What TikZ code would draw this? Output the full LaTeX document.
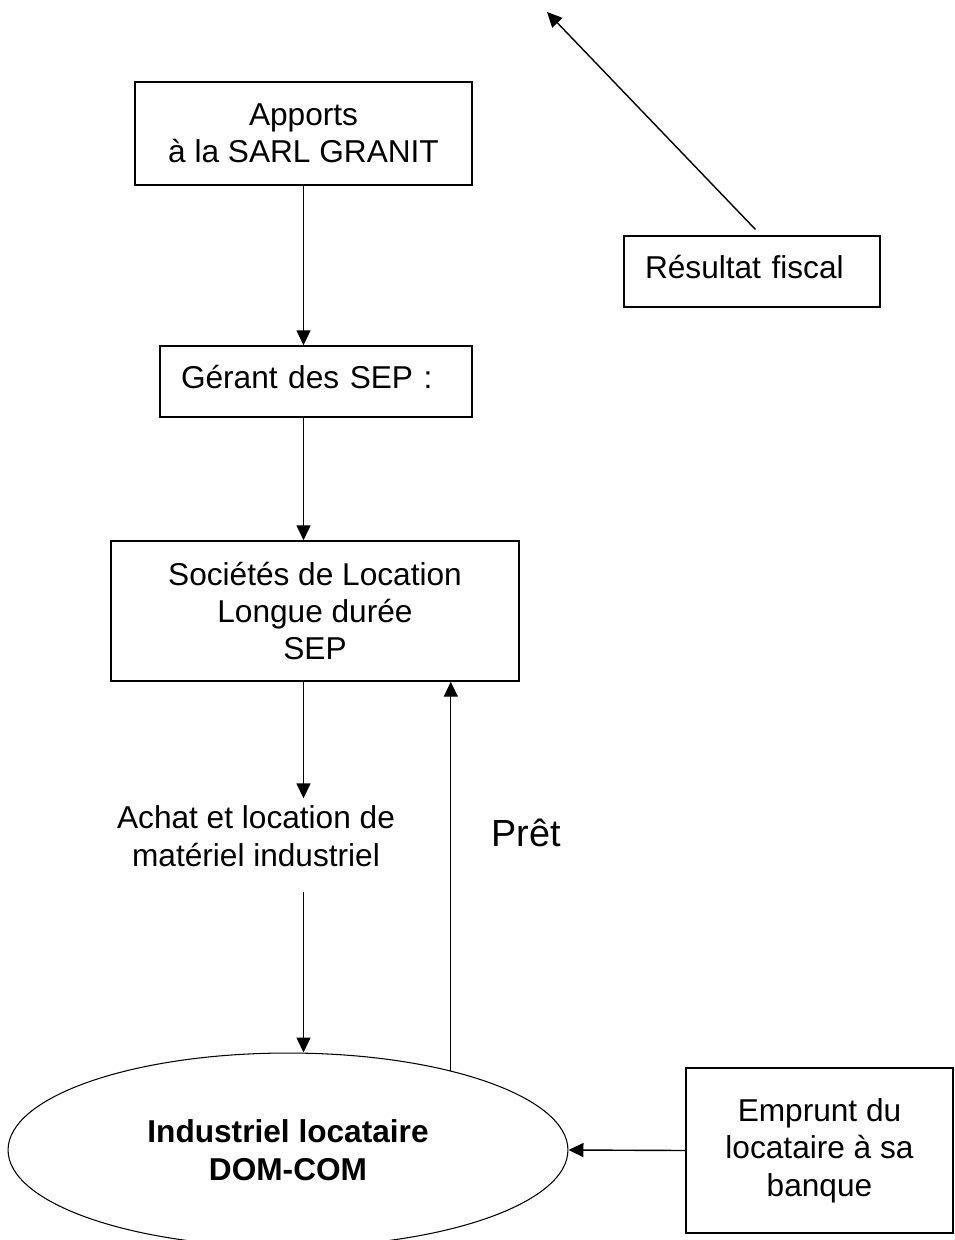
\documentclass[tikz,border=0pt]{standalone}
\usepackage{fontspec}
\setmainfont{Liberation Sans}
\usetikzlibrary{shapes.geometric,arrows.meta,positioning}

\begin{document}
\begin{tikzpicture}
            [
                x=0.02cm, y=-0.02cm,
                font=\fontsize{18}{21.3}\selectfont,
                boxnode/.style={rectangle, draw=black, line width=0.85pt, align=center, inner sep=0pt},
                leftbox/.style={rectangle, draw=black, line width=0.85pt, align=left, inner sep=0pt, text height=0.45cm, text depth=0.17cm},
                ellipsenode/.style={ellipse, draw=black, line width=0.6pt, align=center, inner sep=0pt, font=\fontsize{18}{21.3}\selectfont\bfseries},
                flow/.style={-{Triangle[length=0.3cm,width=0.28cm]}, line width=0.8pt},
            ]

            \useasboundingbox (0,0) rectangle (954,1240);

            %% BOXES
            \node[boxnode, minimum width=6.74cm, minimum height=2.06cm] (apports) at(303.5,133.5) {Apports\\à la SARL GRANIT};
            \node[leftbox, minimum width=5.12cm, minimum height=1.42cm, text width=4.28cm] (resultat) at(752,271.5) {Résultat fiscal};
            \node[leftbox, minimum width=6.24cm, minimum height=1.42cm, text width=5.4cm] (gerant) at(316,381.5) {Gérant des SEP :};
            \node[boxnode, minimum width=8.16cm, minimum height=2.8cm] (societes) at(315,611) {Sociétés de Location\\Longue durée\\SEP};
            \node[boxnode, minimum width=5.34cm, minimum height=3.3cm] (emprunt) at(819.5,1150.5) {Emprunt du\\locataire à sa\\banque};

            %% TEXTS
            \node[align=center, inner xsep=0pt, inner ysep=0.14cm] (achat) at(256,836) {Achat et location de\\matériel industriel};
            \node[font=\fontsize{21.5}{25}\selectfont] (pret) at(526,833) {Prêt};

            %% ELLIPSE
            \node[ellipsenode, minimum width=11.2cm, minimum height=3.88cm] (industriel) at(288,1150) {Industriel locataire\\DOM-COM};

            \coordinate (fisc) at(547,12);

            %% ARROWS
            \draw[flow] (apports.south) -- (apports.south |- gerant.north);
            \draw[flow] (apports.south |- gerant.south) -- (apports.south |- societes.north);
            \draw[flow] (apports.south |- societes.south) -- (apports.south |- achat.north);
            \draw[flow, shorten <=0.36cm] (apports.south |- achat.south) -- (apports.south |- industriel.north);
            \draw[flow] (industriel.26.6) -- (industriel.26.6 |- societes.south);
            \draw[flow] (emprunt.west) -- (industriel.east);
            \draw[flow, shorten <=0.16cm] ([xshift=0.18cm]resultat.north) -- (fisc);

        \end{tikzpicture}
\end{document}
